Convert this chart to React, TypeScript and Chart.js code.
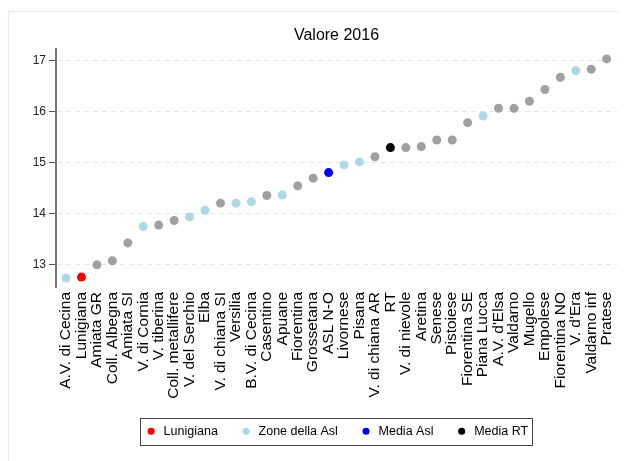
import React, { useEffect, useRef } from "react";
import { Chart, registerables } from "chart.js";

Chart.register(...registerables);

const FONT = "'Liberation Sans', Arial, Helvetica, sans-serif";

const categories = [
  "A.V. di Cecina", "Lunigiana", "Amiata GR", "Coll. Albegna", "Amiata SI",
  "V. di Cornia", "V. tiberina", "Coll. metallifere", "V. del Serchio", "Elba",
  "V. di chiana SI", "Versilia", "B.V. di Cecina", "Casentino", "Apuane",
  "Fiorentina", "Grossetana", "ASL N-O", "Livornese", "Pisana",
  "V. di chiana AR", "RT", "V. di nievole", "Aretina", "Senese",
  "Pistoiese", "Fiorentina SE", "Piana Lucca", "A.V. d'Elsa", "Valdarno",
  "Mugello", "Empolese", "Fiorentina NO", "V. d'Era", "Valdarno inf", "Pratese",
];

const values2016 = [
  12.73, 12.75, 12.99, 13.07, 13.42,
  13.74, 13.77, 13.86, 13.93, 14.06,
  14.2, 14.2, 14.23, 14.35, 14.36,
  14.54, 14.69, 14.8, 14.95, 15.01,
  15.11, 15.29, 15.29, 15.31, 15.44,
  15.44, 15.78, 15.91, 16.06, 16.06,
  16.2, 16.43, 16.67, 16.8, 16.83, 17.03,
];

// L = Lunigiana, Z = Zone della Asl, M = Media Asl, R = Media RT, O = other
const groups = [
  "Z", "L", "O", "O", "O",
  "Z", "O", "O", "Z", "Z",
  "O", "Z", "Z", "O", "Z",
  "O", "O", "M", "Z", "Z",
  "O", "R", "O", "O", "O",
  "O", "O", "Z", "O", "O",
  "O", "O", "O", "Z", "O", "O",
];

const groupKeys = ["O", "L", "Z", "M", "R"];
const groupLabels = ["Altre zone", "Lunigiana", "Zone della Asl", "Media Asl", "Media RT"];
const groupColors = ["#a0a0a0", "#ff0000", "#add8e6", "#0000ff", "#000000"];

const yTicks = [13, 14, 15, 16, 17];

const legendBorder = {
  id: "legendBorder",
  afterDraw(chart: any) {
    const boxes = chart.legend && chart.legend.legendHitBoxes;
    if (!boxes || !boxes.length) return;
    const left = Math.min(...boxes.map((b: any) => b.left));
    const right = Math.max(...boxes.map((b: any) => b.left + b.width));
    const cy = boxes[0].top + boxes[0].height / 2;
    const ctx = chart.ctx;
    ctx.save();
    ctx.strokeStyle = "#444444";
    ctx.lineWidth = 1;
    const x0 = Math.round(left - 5) + 0.5;
    const y0 = Math.round(cy - 13.5) + 0.5;
    ctx.strokeRect(x0, y0, Math.round(right - left + 9), 27);
    ctx.restore();
  },
};

export default function App() {
  const ref = useRef<HTMLCanvasElement | null>(null);

  useEffect(() => {
    if (!ref.current) return;
    const datasets = groupKeys.map((key, gi) => ({
      label: groupLabels[gi],
      data: values2016
        .map((v, i) => ({ x: i, y: v, g: groups[i] }))
        .filter((p) => p.g === key)
        .map((p) => ({ x: p.x, y: p.y })),
      backgroundColor: groupColors[gi],
      borderColor: groupColors[gi],
      borderWidth: 0,
      pointRadius: 4.5,
      pointHoverRadius: 4.5,
      pointStyle: "circle",
    }));

    const chart = new Chart(ref.current, {
      type: "scatter",
      data: { datasets },
      plugins: [legendBorder],
      options: {
        responsive: false,
        devicePixelRatio: 1,
        animation: false,
        events: [],
        layout: { padding: { left: 0, right: 9, top: 0, bottom: 18 } },
        plugins: {
          tooltip: { enabled: false },
          title: {
            display: true,
            fullSize: false,
            text: "Valore 2016",
            color: "#000000",
            font: { family: FONT, size: 16, weight: "normal" },
            padding: { top: 14, bottom: 3.8 },
          },
          legend: {
            display: true,
            fullSize: false,
            position: "bottom",
            maxHeight: 40,
            labels: {
              usePointStyle: true,
              boxHeight: 5,
              boxWidth: 12.5,
              padding: 22,
              color: "#000000",
              font: { family: FONT, size: 12.5 },
              filter: (item: any) => item.datasetIndex > 0,
            },
          },
        },
        scales: {
          x: {
            type: "linear",
            min: -0.647,
            max: 35.667,
            afterBuildTicks: (s: any) => {
              s.ticks = categories.map((_, i) => ({ value: i }));
            },
            afterFit: (s: any) => {
              s.height = 116;
              s.paddingLeft = 0;
              s.paddingRight = 0;
            },
            grid: { display: false, drawTicks: false },
            border: { display: false },
            ticks: {
              autoSkip: false,
              minRotation: 90,
              maxRotation: 90,
              padding: 5,
              color: "#000000",
              font: { family: FONT, size: 15.5 },
              callback: (_v: any, i: number) => categories[i],
            },
          },
          y: {
            type: "linear",
            min: 12.555,
            max: 17.225,
            afterBuildTicks: (s: any) => {
              s.ticks = yTicks.map((v) => ({ value: v }));
            },
            afterFit: (s: any) => {
              s.width = 47;
            },
            grid: {
              color: "#e6e6e6",
              lineWidth: 1,
              drawTicks: true,
              tickLength: 7,
              tickColor: "#555555",
              tickWidth: 1,
            },
            border: { display: true, color: "#777777", width: 2, dash: [5, 4] },
            ticks: {
              autoSkip: false,
              padding: 3,
              color: "#222222",
              font: { family: FONT, size: 12 },
              callback: (v: any) => String(v),
            },
          },
        },
      },
    } as any);

    return () => chart.destroy();
  }, []);

  return (
    <div style={{ paddingTop: 3 }}>
      <div
        style={{
          borderTop: "1px solid #e6eeee",
          borderLeft: "1px solid #e6eeee",
          width: 617,
          height: 449,
        }}
      >
        <canvas
          ref={ref}
          width={617}
          height={449}
          style={{ display: "block", width: 617, height: 449 }}
        />
      </div>
    </div>
  );
}
